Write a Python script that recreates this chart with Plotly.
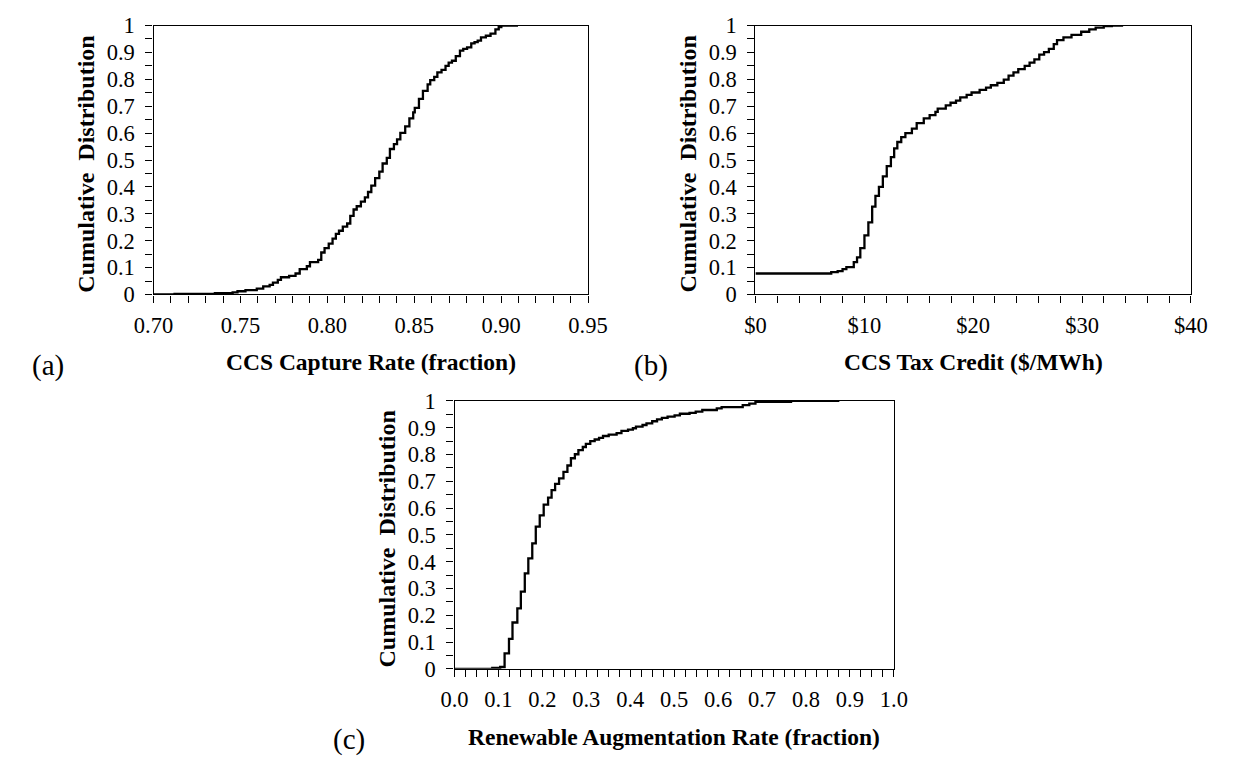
import plotly.graph_objects as go

# ---- data: empirical CDF step points (value, cumulative probability) ----
capture_rate = [0.700, 0.7121, 0.7353, 0.7455, 0.7483, 0.7529, 0.7594, 0.7631, 0.7668, 0.7687,
                0.7715, 0.7733, 0.7780, 0.7817, 0.7841, 0.7882, 0.7900, 0.7947, 0.7965, 0.7984,
                0.8008, 0.8030, 0.8049, 0.8067, 0.8089, 0.8114, 0.8132, 0.8151, 0.8169, 0.8193,
                0.8216, 0.8234, 0.8253, 0.8275, 0.8299, 0.8318, 0.8342, 0.8360, 0.8383, 0.8401,
                0.8420, 0.8448, 0.8472, 0.8494, 0.8503, 0.8527, 0.8550, 0.8577, 0.8592, 0.8615,
                0.8633, 0.8657, 0.8680, 0.8698, 0.8717, 0.8739, 0.8763, 0.8782, 0.8804, 0.8828,
                0.8847, 0.8865, 0.8884, 0.8912, 0.8939, 0.8967, 0.8986, 0.9001, 0.9097]
capture_cdf = [0.000, 0.002, 0.005, 0.008, 0.012, 0.016, 0.022, 0.030, 0.036, 0.044,
               0.054, 0.064, 0.069, 0.078, 0.094, 0.105, 0.120, 0.129, 0.156, 0.172,
               0.189, 0.208, 0.225, 0.237, 0.252, 0.264, 0.292, 0.316, 0.328, 0.345,
               0.361, 0.381, 0.405, 0.433, 0.457, 0.487, 0.508, 0.541, 0.559, 0.577,
               0.601, 0.625, 0.655, 0.677, 0.694, 0.727, 0.757, 0.781, 0.797, 0.809,
               0.826, 0.835, 0.850, 0.862, 0.869, 0.886, 0.907, 0.913, 0.919, 0.934,
               0.938, 0.944, 0.956, 0.962, 0.970, 0.986, 0.994, 1.000, 1.000]

tax_credit = [0.00, 6.96, 7.55, 8.00, 8.35, 9.03, 9.33, 9.63, 10.01, 10.37,
              10.72, 11.02, 11.34, 11.70, 12.06, 12.44, 12.74, 13.03, 13.39, 13.77,
              14.37, 14.81, 15.46, 16.00, 16.53, 16.74, 17.48, 17.92, 18.42, 18.81,
              19.40, 19.85, 20.59, 21.18, 21.62, 22.22, 22.81, 23.25, 23.70, 24.14,
              24.73, 25.18, 25.62, 26.07, 26.51, 26.95, 27.40, 27.70, 28.29, 29.03,
              29.92, 30.66, 31.25, 31.99, 32.73, 33.77]
tax_cdf = [0.078, 0.083, 0.087, 0.094, 0.102, 0.120, 0.138, 0.172, 0.220, 0.268,
           0.327, 0.367, 0.400, 0.439, 0.477, 0.511, 0.543, 0.567, 0.585, 0.600,
           0.617, 0.637, 0.655, 0.667, 0.679, 0.691, 0.703, 0.713, 0.721, 0.733,
           0.742, 0.751, 0.761, 0.769, 0.778, 0.787, 0.799, 0.814, 0.826, 0.838,
           0.850, 0.862, 0.874, 0.892, 0.901, 0.913, 0.931, 0.946, 0.956, 0.965,
           0.977, 0.986, 0.992, 0.998, 1.000, 1.000]

renew_rate = [0.000, 0.086, 0.104, 0.114, 0.124, 0.132, 0.143, 0.151, 0.160, 0.168,
              0.177, 0.185, 0.194, 0.203, 0.213, 0.221, 0.229, 0.238, 0.248, 0.257,
              0.265, 0.274, 0.282, 0.292, 0.299, 0.309, 0.319, 0.329, 0.338, 0.351,
              0.369, 0.380, 0.395, 0.406, 0.413, 0.428, 0.437, 0.450, 0.461, 0.472,
              0.485, 0.501, 0.513, 0.535, 0.549, 0.564, 0.597, 0.608, 0.656, 0.671,
              0.685, 0.766, 0.876]
renew_cdf = [0.000, 0.004, 0.007, 0.058, 0.112, 0.173, 0.226, 0.288, 0.356, 0.412,
             0.468, 0.531, 0.573, 0.613, 0.639, 0.667, 0.690, 0.711, 0.735, 0.759,
             0.786, 0.801, 0.816, 0.828, 0.840, 0.850, 0.856, 0.862, 0.869, 0.874,
             0.880, 0.888, 0.893, 0.898, 0.904, 0.910, 0.916, 0.924, 0.931, 0.937,
             0.941, 0.946, 0.952, 0.955, 0.960, 0.966, 0.972, 0.977, 0.984, 0.990,
             0.996, 1.000, 1.000]

y_tick_vals = [0, 0.1, 0.2, 0.3, 0.4, 0.5, 0.6, 0.7, 0.8, 0.9, 1.0]
y_tick_text = ["0", "0.1", "0.2", "0.3", "0.4", "0.5", "0.6", "0.7", "0.8", "0.9", "1"]

capture_ticks = [0.70, 0.75, 0.80, 0.85, 0.90, 0.95]
capture_tick_text = ["0.70", "0.75", "0.80", "0.85", "0.90", "0.95"]
credit_ticks = [0, 10, 20, 30, 40]
credit_tick_text = ["$0", "$10", "$20", "$30", "$40"]
renew_ticks = [0.0, 0.1, 0.2, 0.3, 0.4, 0.5, 0.6, 0.7, 0.8, 0.9, 1.0]
renew_tick_text = ["0.0", "0.1", "0.2", "0.3", "0.4", "0.5", "0.6", "0.7", "0.8", "0.9", "1.0"]

x_titles = ["CCS Capture Rate (fraction)", "CCS Tax Credit ($/MWh)",
            "Renewable Augmentation Rate (fraction)"]
y_title = "Cumulative\u00a0 Distribution"
panel_tags = ["(a)", "(b)", "(c)"]

# ---- page geometry (pixels) ----
W, H = 1239, 767
FONT = "Liberation Serif, Times New Roman, serif"


def px(x):
    return x / W


def py(y):
    return 1 - y / H


# plot boxes: (left, right, top, bottom) in pixels
boxes = [(138, 587, 14, 292), (760, 1210, 14, 292), (449, 903, 402, 679)]

fig = go.Figure()
series = [(capture_rate, capture_cdf), (tax_credit, tax_cdf), (renew_rate, renew_cdf)]
for i, (xs, ys) in enumerate(series):
    sfx = "" if i == 0 else str(i + 1)
    fig.add_trace(go.Scatter(x=xs, y=ys, mode="lines", line_shape="hv",
                             line=dict(color="black", width=2.3),
                             xaxis="x" + sfx, yaxis="y" + sfx, showlegend=False,
                             hoverinfo="skip"))

minor_tick = dict(ticks="outside", ticklen=7, tickwidth=1.2, tickcolor="black")
axis_common = dict(showline=True, linecolor="black", linewidth=1.4, mirror=True,
                   showgrid=False, zeroline=False, ticks="outside", ticklen=7,
                   tickwidth=1.2, tickcolor="black",
                   tickfont=dict(family=FONT, size=22.5, color="black"))

x_specs = [
    dict(range=[0.70, 0.95], tickvals=capture_ticks, ticktext=capture_tick_text,
         minor=dict(minor_tick, dtick=0.01, tick0=0.70)),
    dict(range=[0, 40], tickvals=credit_ticks, ticktext=credit_tick_text,
         minor=dict(minor_tick, dtick=2, tick0=0)),
    dict(range=[0, 1], tickvals=renew_ticks, ticktext=renew_tick_text,
         minor=dict(minor_tick, dtick=0.025, tick0=0)),
]

layout = dict(width=W, height=H, margin=dict(l=0, r=0, t=0, b=0),
              paper_bgcolor="white", plot_bgcolor="white",
              font=dict(family=FONT, color="black"))

annotations = []
for i, (l, r, t, b) in enumerate(boxes):
    sfx = "" if i == 0 else str(i + 1)
    layout["xaxis" + sfx] = dict(axis_common, domain=[px(l), px(r)], anchor="y" + sfx,
                                 ticklabelstandoff=3, **x_specs[i])
    layout["yaxis" + sfx] = dict(axis_common, domain=[py(b), py(t)], anchor="x" + sfx,
                                 range=[0, 1], tickvals=y_tick_vals, ticktext=y_tick_text,
                                 ticklabelstandoff=6,
                                 minor=dict(minor_tick, dtick=0.05, tick0=0))
    # x-axis title
    annotations.append(dict(text="<b>%s</b>" % x_titles[i], x=px((l + r) / 2), y=py(b + 70),
                            xref="paper", yref="paper", showarrow=False,
                            font=dict(family=FONT, size=23.5, color="black"),
                            xanchor="center", yanchor="middle"))
    # y-axis title
    annotations.append(dict(text="<b>%s</b>" % y_title, x=px(l - 70), y=py((t + b) / 2 + 4),
                            xref="paper", yref="paper", showarrow=False, textangle=-90,
                            font=dict(family=FONT, size=24, color="black"),
                            xanchor="center", yanchor="middle"))
    # panel tag
    annotations.append(dict(text=panel_tags[i], x=px(l - 128), y=py(b + 73),
                            xref="paper", yref="paper", showarrow=False,
                            font=dict(family=FONT, size=29, color="black"),
                            xanchor="left", yanchor="middle"))

layout["annotations"] = annotations
fig.update_layout(**layout)
fig.write_html("out.html")
